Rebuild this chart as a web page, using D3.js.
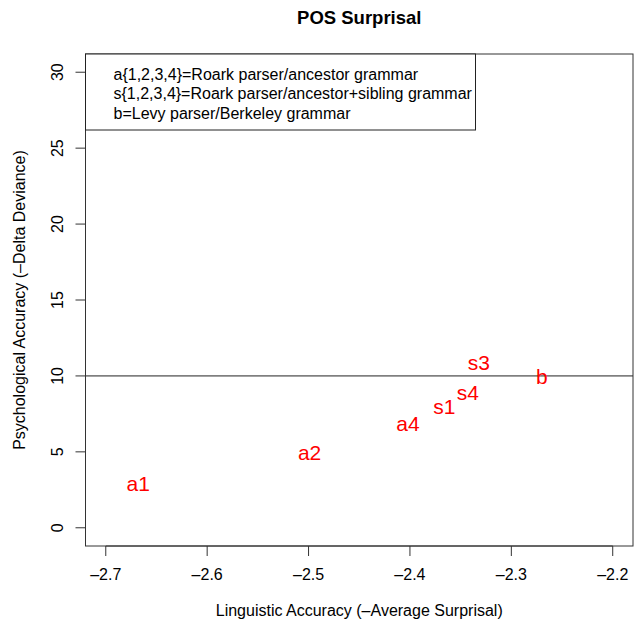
<!DOCTYPE html>
<html>
<head>
<meta charset="utf-8">
<script src="https://cdn.jsdelivr.net/npm/d3@7"></script>
<style>
  body { margin: 0; background: #fff; }
  text { font-family: "Liberation Sans", Arial, sans-serif; }
</style>
</head>
<body>
<div class="chart"></div>
<script>
// data
var labels = ["a1", "a2", "a4", "s1", "s4", "s3", "b"];
var linguistic = [-2.668, -2.499, -2.402, -2.366, -2.343, -2.332, -2.270];
var psychological = [2.95, 4.93, 6.9, 7.96, 8.9, 10.9, 9.96];
var xTicks = [-2.7, -2.6, -2.5, -2.4, -2.3, -2.2];
var yTicks = [0, 5, 10, 15, 20, 25, 30];
var legendLines = [
  "a{1,2,3,4}=Roark parser/ancestor grammar",
  "s{1,2,3,4}=Roark parser/ancestor+sibling grammar",
  "b=Levy parser/Berkeley grammar"
];
var refLine = 10;

var svgWidth = 641;
var svgHeight = 625;
var margin = {top: 54, right: 8, bottom: 79, left: 85.5};
var width = svgWidth - margin.left - margin.right;
var height = svgHeight - margin.top - margin.bottom;

var svg = d3.select(".chart")
  .append("svg")
  .attr("width", svgWidth)
  .attr("height", svgHeight);

var chart = svg.append("g")
  .attr("transform", "translate(" + margin.left + "," + margin.top + ")");

// R style 4% padding
var xScale = d3.scaleLinear().domain([-2.72, -2.18]).range([0, width]);
var yScale = d3.scaleLinear().domain([-1.2, 31.2]).range([height, 0]);

var axisColor = "#333";

// x axis (ticks only from -2.7 to -2.2)
var xAxis = chart.append("g")
  .attr("transform", "translate(0," + height + ")");
xAxis.append("line")
  .attr("x1", xScale(xTicks[0])).attr("x2", xScale(xTicks[xTicks.length - 1]))
  .attr("stroke", axisColor);
xAxis.selectAll(".tick")
  .data(xTicks).enter()
  .append("line")
  .attr("x1", function(d) { return xScale(d); })
  .attr("x2", function(d) { return xScale(d); })
  .attr("y1", 0).attr("y2", 10)
  .attr("stroke", axisColor);
xAxis.selectAll(".lbl")
  .data(xTicks).enter()
  .append("text")
  .attr("x", function(d) { return xScale(d); })
  .attr("y", 34)
  .attr("text-anchor", "middle")
  .attr("font-size", 16)
  .text(function(d) { return "\u2013" + Math.abs(d).toFixed(1); });

// y axis
var yAxis = chart.append("g");
yAxis.selectAll(".tick")
  .data(yTicks).enter()
  .append("line")
  .attr("x1", -10).attr("x2", 0)
  .attr("y1", function(d) { return yScale(d); })
  .attr("y2", function(d) { return yScale(d); })
  .attr("stroke", axisColor);
yAxis.selectAll(".lbl")
  .data(yTicks).enter()
  .append("text")
  .attr("transform", function(d) {
    return "translate(" + (-23) + "," + yScale(d) + ") rotate(-90)";
  })
  .attr("text-anchor", "middle")
  .attr("font-size", 16)
  .text(function(d) { return d; });

// reference line
chart.append("line")
  .attr("x1", 0).attr("x2", width)
  .attr("y1", yScale(refLine)).attr("y2", yScale(refLine))
  .attr("stroke", "#222");

// plot box
chart.append("rect")
  .attr("width", width).attr("height", height)
  .attr("fill", "none").attr("stroke", axisColor);

// legend
var legend = chart.append("g");
legend.append("rect")
  .attr("x", 0).attr("y", 0)
  .attr("width", 390).attr("height", 76)
  .attr("fill", "#fff").attr("stroke", "#222");
legend.selectAll("text")
  .data(legendLines).enter()
  .append("text")
  .attr("x", 28)
  .attr("y", function(d, i) { return 25.5 + i * 19.5; })
  .attr("font-size", 16)
  .text(function(d) { return d; });

// points as text labels
chart.selectAll(".pt")
  .data(labels).enter()
  .append("text")
  .attr("x", function(d, i) { return xScale(linguistic[i]); })
  .attr("y", function(d, i) { return yScale(psychological[i]); })
  .attr("dy", "0.36em")
  .attr("text-anchor", "middle")
  .attr("font-size", 21)
  .attr("fill", "#ff0000")
  .text(function(d) { return d; });

// title and axis labels
svg.append("text")
  .attr("x", margin.left + width / 2).attr("y", 24)
  .attr("text-anchor", "middle")
  .attr("font-size", 18.5).attr("font-weight", "bold")
  .text("POS Surprisal");

svg.append("text")
  .attr("x", margin.left + width / 2).attr("y", 616)
  .attr("text-anchor", "middle")
  .attr("font-size", 16)
  .text("Linguistic Accuracy (\u2013Average Surprisal)");

svg.append("text")
  .attr("transform", "translate(25," + (margin.top + height / 2) + ") rotate(-90)")
  .attr("text-anchor", "middle")
  .attr("font-size", 16)
  .text("Psychological Accuracy (\u2013Delta Deviance)");
</script>
</body>
</html>
